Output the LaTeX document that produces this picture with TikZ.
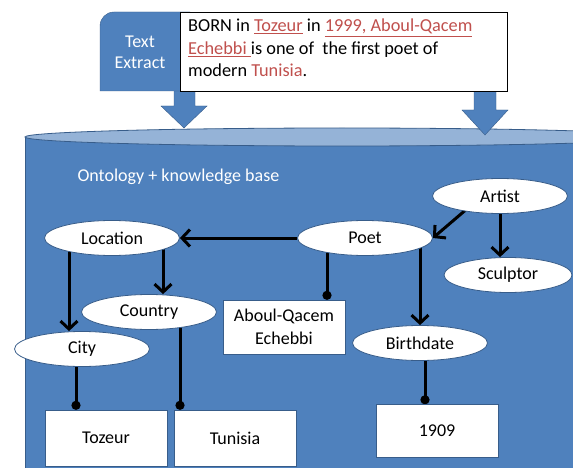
\documentclass[tikz,border=0pt]{standalone}
\usepackage{fontspec}
\setmainfont{Carlito}
\usetikzlibrary{shapes.geometric,arrows.meta,backgrounds}
\definecolor{OfficeBlue}{HTML}{4F81BD}
\definecolor{OfficeBlueDark}{HTML}{385D8A}
\definecolor{OfficeBlueLight}{HTML}{95B3D7}
\definecolor{OfficeRed}{HTML}{C0504D}
\tikzset
{
  ClassNodeStyle/.style =
  {
    shape = ellipse,
    fill = white,
    draw = OfficeBlueDark,
    line width = 0.8pt,
    minimum width = 135pt,
    minimum height = 35pt,
    inner sep = 0pt,
    font = \fontsize{18}{22}\selectfont,
  },
  ValueNodeStyle/.style =
  {
    shape = rectangle,
    fill = white,
    draw = OfficeBlueDark,
    thin,
    minimum width = 122pt,
    align = center,
    inner sep = 0pt,
    font = \fontsize{18}{23}\selectfont,
  },
  LinkArrowStyle/.style =
  {
    line width = 3pt,
    -{Straight Barb[length=8pt,width=17pt,line width=3pt]},
  },
  LinkDotStyle/.style =
  {
    line width = 3pt,
    -{Circle[length=9pt]},
  },
  BlockArrowStyle/.style =
  {
    fill = OfficeBlue,
    draw = OfficeBlueDark,
    thin,
    line join = miter,
  }
}

\begin{document}
\begin{tikzpicture}[x=1pt,y=-1pt]
  \useasboundingbox (0,0) rectangle (573,468);
  \clip (0,0) rectangle (573,468);

  % knowledge base cylinder
  \begin{scope}[on background layer]
    \fill[white] (0,0) rectangle (573,468);
    \filldraw[fill=OfficeBlue, draw=OfficeBlueDark, thick]
      (25,137) -- (25,480) -- (660,480) -- (660,137) -- cycle;
    \filldraw[fill=OfficeBlueLight, draw=OfficeBlueDark, thick]
      (342,137) ellipse [x radius=317, y radius=9];
  \end{scope}

  % block arrows from the extract down to the base
  \draw[BlockArrowStyle] (174,80) -- (195,80) -- (195,106) -- (207,106)
    -- (184,128) -- (161,106) -- (174,106) -- cycle;
  \draw[BlockArrowStyle] (474,80) -- (496,80) -- (496,110) -- (508,110)
    -- (485,135) -- (462,110) -- (474,110) -- cycle;

  % text extract tab and box
  \filldraw[fill=OfficeBlue, draw=OfficeBlueDark, thin]
    (100,91) -- (100,26) arc[start angle=180, end angle=270, radius=14]
    -- (190,12) -- (190,91) -- cycle;
  \node[text=white, align=center, font=\fontsize{18}{21}\selectfont]
    (TabLabel) at (140,52) {Text\\Extract};
  \node[draw=black, line width=1.2pt, fill=white, anchor=north west,
        minimum width=327pt, minimum height=79pt, inner sep=0pt]
    (ExtractBox) at (180,12) {};
  \node[anchor=north west, align=left, inner sep=0pt,
        font=\fontsize{18.3}{22.5}\selectfont]
    (ExtractText) at (188,19)
    {BORN in \textcolor{OfficeRed}{\underline{Tozeur}} in
     \textcolor{OfficeRed}{\underline{1999, Aboul-Qacem}}\\
     \textcolor{OfficeRed}{\underline{Echebbi }}is one of\ \ the first poet of\\
     modern \textcolor{OfficeRed}{Tunisia}.};

  % ontology
  \node[text=white, anchor=west, font=\fontsize{18}{22}\selectfont]
    (BaseTitle) at (74,177) {Ontology + knowledge base};

  \node[ClassNodeStyle] (Artist) at (500,196) {Artist};
  \node[ClassNodeStyle] (Location) at (112,238) {Location};
  \node[ClassNodeStyle] (Poet) at (365,238) {Poet};
  \node[ClassNodeStyle, minimum width=128pt] (Sculptor) at (508,275) {Sculptor};
  \node[ClassNodeStyle] (Country) at (149,312) {Country};
  \node[ClassNodeStyle] (City) at (82,349) {City};
  \node[ClassNodeStyle] (Birthdate) at (420,343) {Birthdate};

  \node[ValueNodeStyle, minimum height=54pt] (Aboul) at (284,327)
    {Aboul-Qacem\\Echebbi};
  \node[ValueNodeStyle, minimum height=56pt] (Tozeur) at (106,438) {Tozeur};
  \node[ValueNodeStyle, minimum height=56pt] (Tunisia) at (235,438) {Tunisia};
  \node[ValueNodeStyle, minimum height=53pt] (Year) at (437,431) {1909};

  \coordinate (LocLeft) at ([xshift=-43pt]Location.center);
  \coordinate (LocRight) at ([xshift=51pt]Location.center);
  \coordinate (PoetLeft) at ([xshift=-38pt]Poet.center);
  \coordinate (PoetRight) at ([xshift=55pt]Poet.center);
  \coordinate (ArtistLeft) at ([xshift=-18pt]Artist.center);
  \coordinate (CityDown) at ([xshift=-6pt]City.center);
  \coordinate (CountryDown) at ([xshift=31pt]Country.center);
  \coordinate (BirthDown) at ([xshift=5pt]Birthdate.center);

  \begin{scope}[on background layer]
    \draw[LinkArrowStyle] (Poet.west) -- (Location.east);
    \draw[LinkArrowStyle] (ArtistLeft) -- (Poet.east);
    \draw[LinkArrowStyle] (Artist.center) -- (Artist.center |- Sculptor.north);
    \draw[LinkArrowStyle] (LocLeft) -- (LocLeft |- City.north);
    \draw[LinkArrowStyle] (LocRight) -- (LocRight |- Country.north);
    \draw[LinkArrowStyle] (PoetRight) -- (PoetRight |- Birthdate.north);
    \draw[LinkDotStyle] (PoetLeft) -- (PoetLeft |- Aboul.north);
    \draw[LinkDotStyle] (CityDown) -- (CityDown |- Tozeur.north);
    \draw[LinkDotStyle] (CountryDown) -- (CountryDown |- Tunisia.north);
    \draw[LinkDotStyle] (BirthDown) -- (BirthDown |- Year.north);
  \end{scope}
\end{tikzpicture}
\end{document}
